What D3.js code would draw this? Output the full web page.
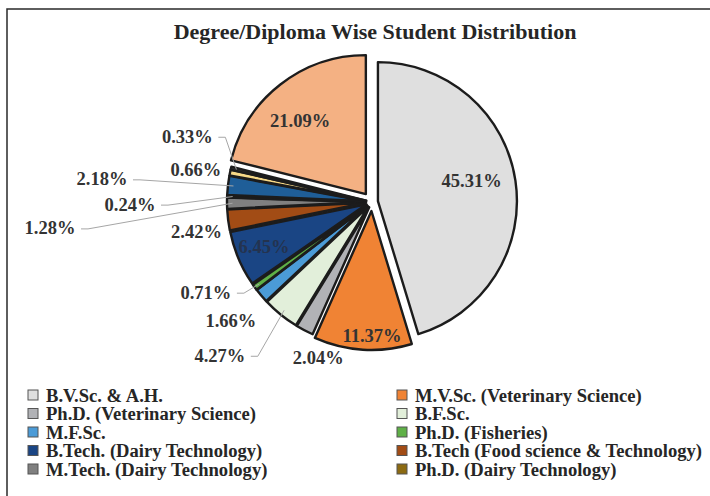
<!DOCTYPE html>
<html>
<head>
<meta charset="utf-8">
<script src="https://cdn.jsdelivr.net/npm/d3@7"></script>
<style>
  body { margin: 0; background: #fff; }
  text { font-family: "Liberation Serif", "Times New Roman", serif; font-weight: bold; }
</style>
</head>
<body>
<div id="chart"></div>
<script>
// categories in pie order (clockwise from 12 o'clock); only first 10 shown in legend
var categories = [
  "B.V.Sc. & A.H.",
  "M.V.Sc. (Veterinary Science)",
  "Ph.D. (Veterinary Science)",
  "B.F.Sc.",
  "M.F.Sc.",
  "Ph.D. (Fisheries)",
  "B.Tech. (Dairy Technology)",
  "B.Tech (Food science & Technology)",
  "M.Tech. (Dairy Technology)",
  "Ph.D. (Dairy Technology)",
  "Category 11",
  "Category 12",
  "Category 13",
  "Category 14"
];
var shares = [45.31, 11.37, 2.04, 4.27, 1.66, 0.71, 6.45, 2.42, 1.28, 0.24, 2.18, 0.66, 0.33, 21.09];
var legendCount = 10;

var colors = ["#dfdfdf", "#f08334", "#b1b2b6", "#e2efda", "#4b9bd7", "#5fb047", "#1a4584",
              "#a24c15", "#808080", "#8c6a12", "#1f5e98", "#f7d987", "#3a3a3a", "#f4b183"];
// how far each slice is pulled out of the pie
var explode = [6, 9, 6, 6, 6, 6, 6, 6, 6, 6, 6, 6, 6, 10];

// label placement: [angle in degrees clockwise from top, distance from centre], leader flag
var labelAngle = [77.6, 180, 199, 224.8, 230.1, 241.5, 247.4, 260.3, 265.4, 269.5, 274.9, 280.3, 289.6, 318.7];
var labelDist  = [102, 134, 165, 216, 184, 189, 117, 178, 323, 242, 271, 179, 196, 109];
var hasLeader  = [false, false, false, true, false, true, false, false, true, true, true, false, true, false];

var W = 710, H = 496;
var cx = 372, cy = 202, R = 139;

var svg = d3.select("#chart").append("svg")
  .attr("width", W).attr("height", H);

svg.append("rect")
  .attr("x", 7).attr("y", 9)
  .attr("width", 720).attr("height", 500)
  .attr("fill", "none").attr("stroke", "#2a2a2a").attr("stroke-width", 1.5);

svg.append("text")
  .attr("x", 375).attr("y", 39)
  .attr("text-anchor", "middle")
  .attr("font-size", 22)
  .attr("fill", "#262626")
  .text("Degree/Diploma Wise Student Distribution");

var data = shares.map(function(v, i) { return { name: categories[i], value: v, i: i }; });

var pie = d3.pie().sort(null).value(function(d) { return d.value; });
var arcs = pie(data);
var arc = d3.arc().innerRadius(0).outerRadius(R);

var g = svg.append("g").attr("transform", "translate(" + cx + "," + cy + ")");

function offset(d) {
  var a = (d.startAngle + d.endAngle) / 2;
  var e = explode[d.data.i];
  return [Math.sin(a) * e, -Math.cos(a) * e];
}

g.selectAll("path.slice")
  .data(arcs)
  .enter()
  .append("path")
  .attr("class", "slice")
  .attr("d", arc)
  .attr("transform", function(d) { var o = offset(d); return "translate(" + o[0] + "," + o[1] + ")"; })
  .attr("fill", function(d) { return colors[d.data.i]; })
  .attr("stroke", "#1c1c1c")
  .attr("stroke-width", 2.4)
  .attr("stroke-linejoin", "round");

function polar(deg, dist) {
  var a = deg * Math.PI / 180;
  return [Math.sin(a) * dist, -Math.cos(a) * dist];
}

// leader lines
var fmt = function(v) { return v.toFixed(2) + "%"; };
arcs.forEach(function(d) {
  var i = d.data.i;
  if (!hasLeader[i]) return;
  var p = polar(labelAngle[i], labelDist[i]);
  var a = (d.startAngle + d.endAngle) / 2;
  var o = offset(d);
  var end = [Math.sin(a) * R * 0.96 + o[0], -Math.cos(a) * R * 0.96 + o[1]];
  var sx = p[0] + 31, sy = p[1] + 1;
  var pts = [[sx, sy], [sx + 7, sy], end];
  g.append("path")
    .attr("d", d3.line()(pts))
    .attr("fill", "none")
    .attr("stroke", "#a6a6a6")
    .attr("stroke-width", 1);
});

g.selectAll("text.lbl")
  .data(arcs)
  .enter()
  .append("text")
  .attr("class", "lbl")
  .attr("x", function(d) { return polar(labelAngle[d.data.i], labelDist[d.data.i])[0]; })
  .attr("y", function(d) { return polar(labelAngle[d.data.i], labelDist[d.data.i])[1]; })
  .attr("dy", "0.35em")
  .attr("text-anchor", "middle")
  .attr("font-size", 18.5)
  .attr("fill", function(d) { return d.data.i === 6 ? "#24334f" : "#333"; })
  .text(function(d) { return fmt(d.data.value); });

// legend, two columns
var legend = svg.append("g");
var items = legend.selectAll("g")
  .data(data.slice(0, legendCount))
  .enter()
  .append("g")
  .attr("transform", function(d, i) {
    var col = i % 2, row = Math.floor(i / 2);
    return "translate(" + (col === 0 ? 28 : 397) + "," + (395 + row * 18.5) + ")";
  });

items.append("rect")
  .attr("x", 0).attr("y", -5)
  .attr("width", 10).attr("height", 10)
  .attr("fill", function(d) { return colors[d.i]; })
  .attr("stroke", "#555").attr("stroke-width", 1);

items.append("text")
  .attr("x", 18).attr("y", 0)
  .attr("dy", "0.35em")
  .attr("font-size", 18.6)
  .attr("fill", "#262626")
  .text(function(d) { return d.name; });
</script>
</body>
</html>
